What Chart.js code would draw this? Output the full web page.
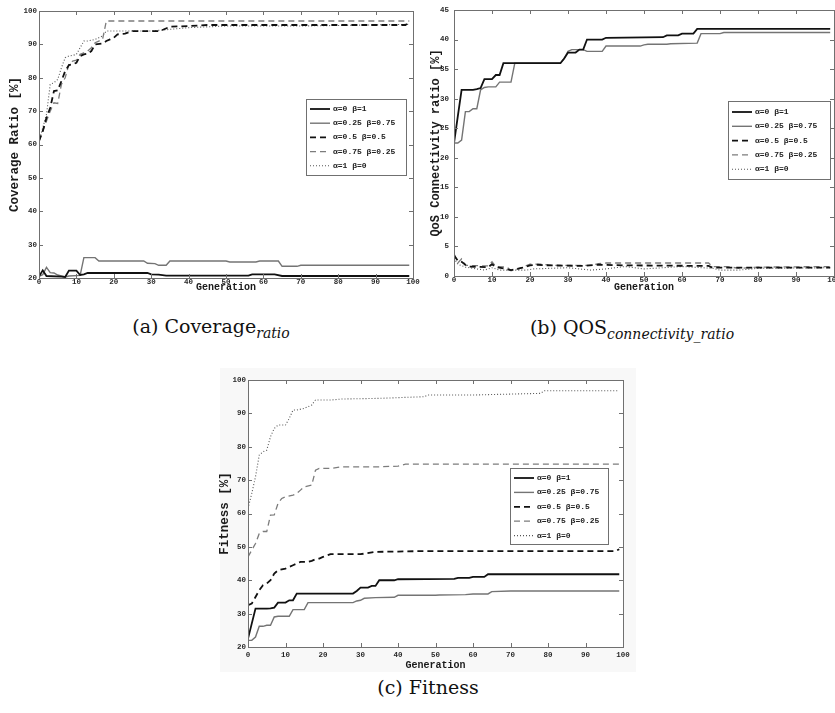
<!DOCTYPE html>
<html>
<head>
<meta charset="utf-8">
<script src="https://cdn.jsdelivr.net/npm/chart.js@4.4.0/dist/chart.umd.min.js"></script>
<style>
  body { margin:0; background:#fff; width:835px; height:713px; position:relative; overflow:hidden; }
  .pane { position:absolute; overflow:hidden; }
  .cap { position:absolute; text-align:center; font-family:"DejaVu Serif", serif; font-size:19px; line-height:22px; color:#111; }
  .cap i { font-size:14px; position:relative; top:5px; }
</style>
</head>
<body>
<div class="pane" style="left:0;top:0;width:420px;height:300px"><canvas id="cA" width="420" height="300"></canvas></div>
<div class="pane" style="left:415px;top:0;width:420px;height:300px"><canvas id="cB" width="445" height="300"></canvas></div>
<div class="pane" style="left:220px;top:368px;width:416px;height:304px;background:#f8f8f8"></div>
<div class="pane" style="left:214px;top:370px;width:424px;height:300px"><canvas id="cC" width="424" height="300"></canvas></div>
<div class="cap" style="left:0;top:315px;width:422px">(a) Coverage<i>ratio</i></div>
<div class="cap" style="left:422px;top:316px;width:420px">(b) QOS<i>connectivity_ratio</i></div>
<div class="cap" style="left:218px;top:676px;width:420px">(c) Fitness</div>
<script>
// legend labels (same for all three plots)
const seriesLabels = ['α=0 β=1', 'α=0.25 β=0.75', 'α=0.5 β=0.5', 'α=0.75 β=0.25', 'α=1 β=0'];

// x ticks
const genMin = 0, genMax = 100, genStep = 10;

// (a) coverage ratio  [generation, %]
const covA0   = [[0,20.5],[1,22.3],[2,20.6],[6,20.4],[7,20.3],[8,22.2],[10,22.2],[11,20.9],[12,21.1],[13,21.5],[29,21.5],[30,21.1],[32,21],[34,20.7],[56,20.7],[57,21.1],[63,21.1],[65,20.6],[99,20.6]];
const covA025 = [[0,20.5],[1,21],[2,23.2],[3,21.6],[4,21.5],[5,20.9],[6,20.6],[7,20.3],[8,20.6],[11,20.8],[12,26.1],[15,26.1],[16,25.1],[28,25.1],[29,24.4],[31,24.3],[32,23.8],[34,23.8],[35,25.1],[50,25.1],[51,24.8],[58,24.8],[59,25.1],[64,25.1],[65,23.5],[69,23.5],[70,23.8],[99,23.8]];
const covA05  = [[0,61],[1,64],[2,68],[3,71],[4,76],[5,76.2],[6,79],[7,82],[8,83.8],[9,84],[10,84.5],[11,86.5],[12,87],[13,87.2],[14,88],[15,90],[17,90.3],[18,91],[19,91.5],[20,92],[21,93],[23,93.2],[25,94],[32,94],[33,94.3],[35,95.3],[40,95.5],[45,95.8],[98,95.8],[99,96.7]];
const covA075 = [[0,61],[1,64],[2,67],[3,70],[4,72.5],[5,72.3],[6,78],[7,80],[8,84],[9,85],[10,85.3],[11,87],[12,87.5],[13,88],[14,89],[15,90.5],[16,91],[17,91.5],[18,97],[99,97]];
const covA1   = [[0,61],[1,65],[2,69],[3,78],[4,78.5],[5,79.5],[6,83],[7,86],[8,86.5],[9,86.7],[10,87],[11,89],[12,91],[13,91],[15,91.5],[16,92],[17,92.5],[18,94],[30,94],[35,94.5],[40,95],[50,95.5],[70,95.5],[99,96]];
const covYMin = 20, covYMax = 100, covYStep = 10;

// (b) QoS connectivity ratio
const qosA0   = [[0,22.5],[1,27],[2,31.5],[5,31.5],[6,31.6],[7,31.8],[8,33.3],[10,33.3],[11,34],[12,34],[13,36],[28,36],[29,36.8],[30,37.8],[32,37.8],[33,38.3],[34,38.3],[35,40],[39,40],[40,40.3],[55,40.4],[56,40.7],[59,40.7],[60,41],[63,41],[64,41.8],[99,41.8]];
const qosA025 = [[0,22.5],[1,22.5],[2,23],[3,27.8],[4,27.8],[5,28.3],[6,28.3],[7,31.5],[8,31.9],[9,32],[11,32],[12,32.8],[15,32.8],[16,36],[28,36],[29,36.8],[30,38],[31,38.3],[34,38.3],[35,38],[39,38],[40,38.9],[49,38.9],[50,39.1],[51,39.2],[56,39.2],[57,39.3],[64,39.4],[65,41],[70,41],[71,41.2],[99,41.2]];
const qosA05  = [[0,3.5],[1,2.6],[2,2.4],[3,1.9],[4,1.6],[9,1.5],[10,2],[11,1.5],[13,1.3],[15,1],[16,1.1],[18,1.4],[20,1.8],[22,1.9],[25,1.8],[34,1.7],[38,1.9],[45,1.8],[67,1.7],[68,1.4],[99,1.4]];
const qosA075 = [[0,3.8],[1,2.2],[2,2.9],[3,1.8],[9,1.7],[10,2.4],[11,1.6],[14,1.5],[15,0.9],[17,1.2],[20,2],[23,2],[26,1.8],[36,1.8],[38,2.1],[40,2.2],[67,2.2],[68,1.6],[72,1.6],[75,1.3],[80,1.5],[99,1.6]];
const qosA1   = [[0,3],[1,2],[3,1.5],[8,1],[10,1.4],[12,1],[19,1],[21,1.2],[30,1.4],[36,1],[40,1.2],[45,1.6],[50,1.2],[60,1.6],[68,1.3],[70,1],[75,1],[80,1.3],[99,1.4]];
const qosYMin = 0, qosYMax = 45, qosYStep = 5;

// (c) fitness
const fitA0   = [[0,22.5],[1,27],[2,31.5],[5,31.5],[6,31.6],[7,31.8],[8,33.3],[10,33.3],[11,34],[12,34],[13,36],[28,36],[29,36.8],[30,37.8],[32,37.8],[33,38.3],[34,38.3],[35,40],[39,40],[40,40.3],[55,40.4],[56,40.7],[59,40.7],[60,41],[63,41],[64,41.8],[99,41.8]];
const fitA025 = [[0,22],[1,22],[2,23],[3,26.2],[4,26.2],[5,26.5],[6,26.5],[7,29],[8,29.2],[11,29.2],[12,31.2],[15,31.2],[16,33.3],[28,33.3],[29,33.8],[30,34],[31,34.6],[34,34.8],[39,34.9],[40,35.5],[50,35.5],[51,35.6],[58,35.7],[60,35.9],[64,35.9],[65,36.6],[70,36.8],[99,36.8]];
const fitA05  = [[0,32.5],[1,33],[2,35],[3,37],[4,38.5],[5,39],[6,40],[7,42],[8,43],[10,43.5],[12,44.5],[14,45.5],[16,45.5],[17,45.8],[18,46.3],[19,46.5],[20,47],[22,47.8],[30,47.8],[34,48.5],[40,48.6],[45,48.7],[98,48.7],[99,49.3]];
const fitA075 = [[0,47],[1,49],[2,51],[3,54],[4,54.6],[5,54.6],[6,59.5],[7,59.6],[8,63],[9,64.5],[10,65],[12,65.5],[13,66],[14,67],[15,68],[17,68.5],[18,73],[19,73.5],[22,73.5],[25,74],[35,74],[40,74.2],[42,74.8],[99,74.8]];
const fitA1   = [[0,61.5],[1,66],[2,71],[3,77.5],[4,78.5],[5,79],[6,83],[7,85.5],[8,86.5],[10,86.5],[11,88.5],[12,91],[13,91],[15,91.5],[16,92],[17,92.5],[18,94],[22,94],[25,94.3],[35,94.5],[47,95],[48,95.5],[60,95.5],[78,96],[79,96.8],[99,96.8]];
const fitYMin = 20, fitYMax = 100, fitYStep = 10;

// line styles per series
const lineColors = ['#111111', '#747474', '#111111', '#7c7c7c', '#555555'];
const lineWidths = [1.8, 1.4, 1.8, 1.3, 1.1];
const lineDashes = [[], [], [6, 4], [6, 4], [1, 2]];

const MONO = '"Liberation Mono", "DejaVu Sans Mono", monospace';

// white plot area, frame with inward ticks (matlab style) + boxed legend
const frameLegend = {
  id: 'frameLegend',
  beforeDraw(chart) {
    const { ctx, chartArea: a } = chart;
    ctx.save();
    ctx.fillStyle = '#fff';
    ctx.fillRect(a.left, a.top, a.right - a.left, a.bottom - a.top);
    ctx.restore();
  },
  afterDatasetsDraw(chart, args, opts) {
    const { ctx, chartArea: a } = chart;
    const x = chart.scales.x, y = chart.scales.y;
    ctx.save();
    ctx.strokeStyle = '#707070';
    ctx.lineWidth = 1;
    ctx.setLineDash([]);
    ctx.strokeRect(Math.round(a.left) + 0.5, Math.round(a.top) + 0.5, Math.round(a.right - a.left), Math.round(a.bottom - a.top));
    ctx.beginPath();
    x.ticks.forEach(t => {
      const p = Math.round(x.getPixelForValue(t.value)) + 0.5;
      ctx.moveTo(p, a.bottom); ctx.lineTo(p, a.bottom - 4);
      ctx.moveTo(p, a.top); ctx.lineTo(p, a.top + 4);
    });
    y.ticks.forEach(t => {
      const p = Math.round(y.getPixelForValue(t.value)) + 0.5;
      ctx.moveTo(a.left, p); ctx.lineTo(a.left + 4, p);
      ctx.moveTo(a.right, p); ctx.lineTo(a.right - 4, p);
    });
    ctx.stroke();

    // legend
    ctx.fillStyle = '#fff';
    ctx.fillRect(opts.left, opts.top, opts.width, opts.height);
    ctx.strokeStyle = '#707070';
    ctx.strokeRect(opts.left + 0.5, opts.top + 0.5, opts.width, opts.height);
    ctx.font = 'bold 8px ' + MONO;
    ctx.textBaseline = 'middle';
    chart.data.datasets.forEach((ds, i) => {
      const yy = opts.top + opts.first + i * opts.step;
      ctx.strokeStyle = ds.borderColor;
      ctx.lineWidth = ds.borderWidth;
      ctx.setLineDash(ds.borderDash);
      ctx.beginPath();
      ctx.moveTo(opts.left + 4, yy);
      ctx.lineTo(opts.left + 24, yy);
      ctx.stroke();
      ctx.setLineDash([]);
      ctx.fillStyle = '#222';
      ctx.fillText(ds.label, opts.left + 27, yy);
    });
    ctx.restore();
  }
};

function makeChart(id, series, yMin, yMax, yStep, yTitle, g) {
  return new Chart(document.getElementById(id), {
    type: 'line',
    data: {
      datasets: series.map((pts, i) => ({
        label: seriesLabels[i],
        data: pts.map(p => ({ x: p[0], y: p[1] })),
        borderColor: lineColors[i],
        borderWidth: lineWidths[i],
        borderDash: lineDashes[i],
        pointRadius: 0,
        tension: 0,
        fill: false
      }))
    },
    options: {
      responsive: false,
      animation: false,
      events: [],
      layout: { padding: { top: g.padTop, right: g.padRight, bottom: 0, left: 0 } },
      plugins: {
        legend: { display: false },
        tooltip: { enabled: false },
        frameLegend: g.legend
      },
      scales: {
        x: {
          type: 'linear', min: genMin, max: genMax,
          grid: { display: false, drawTicks: false, tickLength: 0 },
          border: { display: false },
          ticks: { stepSize: genStep, padding: g.xTickPad, color: '#2a2a2a', font: { family: MONO, size: 7.5, weight: 'bold' }, maxRotation: 0 },
          title: { display: true, text: 'Generation', color: '#1a1a1a', padding: { top: 0, bottom: g.xTitlePad }, font: { family: MONO, size: 10, weight: 'bold', lineHeight: 1 } },
          afterFit: s => { s.height = g.xHeight; s.paddingLeft = 0; s.paddingRight = 0; }
        },
        y: {
          min: yMin, max: yMax,
          grid: { display: false, drawTicks: false, tickLength: 0 },
          border: { display: false },
          ticks: { stepSize: yStep, padding: g.yTickPad, color: '#2a2a2a', font: { family: MONO, size: 7.5, weight: 'bold' } },
          title: { display: true, text: yTitle, color: '#1a1a1a', padding: { top: g.yTitlePad, bottom: 0 }, font: { family: MONO, size: g.yTitleSize, weight: 'bold', lineHeight: 1 } },
          afterFit: s => { s.width = g.yWidth; s.paddingTop = 0; s.paddingBottom = 0; }
        }
      }
    },
    plugins: [frameLegend]
  });
}

makeChart('cA', [covA0, covA025, covA05, covA075, covA1], covYMin, covYMax, covYStep, 'Coverage Ratio [%]', {
  padTop: 11, padRight: 7, xHeight: 22, yWidth: 39, xTickPad: 0, yTickPad: 2, xTitlePad: 8, yTitlePad: 9, yTitleSize: 12.5,
  legend: { left: 306, top: 99, width: 100, height: 76, first: 10, step: 14.2 }
});
makeChart('cB', [qosA0, qosA025, qosA05, qosA075, qosA1], qosYMin, qosYMax, qosYStep, 'QoS Connectivity ratio [%]', {
  padTop: 10, padRight: 26, xHeight: 24, yWidth: 39, xTickPad: 0, yTickPad: 5, xTitlePad: 8, yTitlePad: 15, yTitleSize: 12,
  legend: { left: 313, top: 101, width: 102, height: 78, first: 11, step: 14.3 }
});
makeChart('cC', [fitA0, fitA025, fitA05, fitA075, fitA1], fitYMin, fitYMax, fitYStep, 'Fitness [%]', {
  padTop: 10, padRight: 15, xHeight: 23, yWidth: 34, xTickPad: 4, yTickPad: 2, xTitlePad: 0, yTitlePad: 5, yTitleSize: 12.5,
  legend: { left: 296, top: 98, width: 98, height: 76, first: 10, step: 14.4 }
});
</script>
</body>
</html>
